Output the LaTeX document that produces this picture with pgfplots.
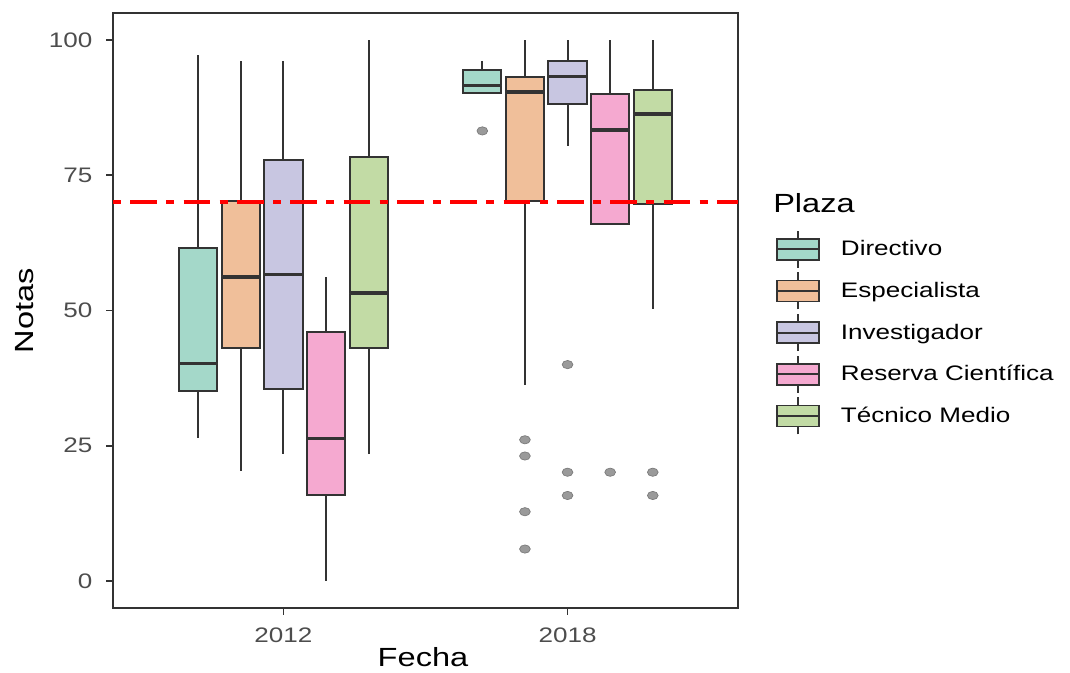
\documentclass[border=0pt]{standalone}
\usepackage{fontspec}
\setmainfont{Liberation Sans}[FakeStretch=1.24]
\usepackage{pgfplots}
\pgfplotsset{compat=1.18}
\usepgfplotslibrary{statistics}
\definecolor{c1}{HTML}{A4D8C9}
\definecolor{c2}{HTML}{F0BF9A}
\definecolor{c3}{HTML}{C8C6E1}
\definecolor{c4}{HTML}{F5A9D0}
\definecolor{c5}{HTML}{C2DBA5}
\definecolor{g20}{HTML}{333333}
\definecolor{g30}{HTML}{4D4D4D}
\definecolor{gout}{HTML}{9A9A9A}
\definecolor{goutd}{HTML}{7A7A7A}
\newcommand{\smallfs}{\fontsize{15.75pt}{18pt}\selectfont}
\newcommand{\bigfs}{\fontsize{19.7pt}{23pt}\selectfont}
\newcommand{\lt}[1]{\raisebox{0pt}[11.3pt][0pt]{#1}}
\pgfplotsset{bp/.style={forget plot, boxplot/draw direction=y, draw=g20, line width=1.5pt,
  boxplot/box extend=0.135, boxplot/whisker extend=0,
  boxplot/every median/.style={line width=2.6pt},
  mark=*, mark size=3.1pt, mark options={fill=gout, draw=goutd, line width=0.5pt, xscale=1.3, solid}}}
\begin{document}
\begin{tikzpicture}
\begin{axis}[
  at={(0,0)}, anchor=south west,
  scale only axis, width=468.75pt, height=446.25pt,
  xmin=0.4, xmax=2.6, ymin=-5, ymax=105,
  xtick={1,2}, xticklabels={2012,2018},
  ytick={0,25,50,75,100},
  /pgf/number format/assume math mode=true,
  tick align=outside, xtick pos=bottom, ytick pos=left,
  major tick length=5pt,
  tick style={g20, line width=1.2pt},
  axis line style={g20, line width=1.3pt},
  tick label style={font=\smallfs, text=g30, inner sep=0pt},
  xticklabel style={anchor=base, yshift=-20.6pt},
  yticklabel style={anchor=east, xshift=-10.3pt},
  xlabel={Fecha}, ylabel={Notas},
  label style={font=\bigfs, text=black},
  xlabel style={at={(axis description cs:0.496,-0.0985)}, anchor=base},
  ylabel style={at={(axis description cs:-0.1408,0.5)}, anchor=center},
  clip=false,
  legend style={at={(axis description cs:1.06,0.6225)}, anchor=north west, draw=none, fill=none,
    inner sep=0pt, row sep=14.1pt, column sep=16pt, font=\smallfs, cells={anchor=west}, nodes={inner sep=0pt}},
  legend cell align=left,
  legend image code/.code={
    \draw[#1, line width=1.4pt] (0pt,-7.875pt) rectangle (31.5pt,7.875pt);
    \draw[g20, line width=1.4pt] (0pt,0pt) -- (31.5pt,0pt);
    \draw[overlay, g20, line width=1.4pt] (15.75pt,7.875pt) -- (15.75pt,13.875pt) (15.75pt,-7.875pt) -- (15.75pt,-13.875pt);
  },
]
\addlegendimage{fill=c1, draw=g20}\addlegendentry{\lt{Directivo}}
\addlegendimage{fill=c2, draw=g20}\addlegendentry{\lt{Especialista}}
\addlegendimage{fill=c3, draw=g20}\addlegendentry{\lt{Investigador}}
\addlegendimage{fill=c4, draw=g20}\addlegendentry{\lt{Reserva Científica}}
\addlegendimage{fill=c5, draw=g20}\addlegendentry{\lt{Técnico Medio}}
% 2012
\addplot[bp, fill=c1, boxplot prepared={draw position=0.7, lower whisker=26.4, lower quartile=35.1, median=40.2, upper quartile=61.6, upper whisker=97.2}] coordinates {};
\addplot[bp, fill=c2, boxplot prepared={draw position=0.85, lower whisker=20.3, lower quartile=43.0, median=56.2, upper quartile=70.2, upper whisker=96.2}] coordinates {};
\addplot[bp, fill=c3, boxplot prepared={draw position=1.0, lower whisker=23.4, lower quartile=35.5, median=56.7, upper quartile=77.9, upper whisker=96.2}] coordinates {};
\addplot[bp, fill=c4, boxplot prepared={draw position=1.15, lower whisker=0, lower quartile=15.8, median=26.3, upper quartile=46.0, upper whisker=56.1}] coordinates {};
\addplot[bp, fill=c5, boxplot prepared={draw position=1.3, lower whisker=23.4, lower quartile=43.0, median=53.2, upper quartile=78.3, upper whisker=100}] coordinates {};
% 2018
\addplot[bp, fill=c1, boxplot prepared={draw position=1.7, lower whisker=90.2, lower quartile=90.2, median=91.6, upper quartile=94.5, upper whisker=96.2}] table[row sep=\\, y index=0] {data\\ 83.2\\};
\addplot[bp, fill=c2, boxplot prepared={draw position=1.85, lower whisker=36.2, lower quartile=70.3, median=90.4, upper quartile=93.1, upper whisker=100}] table[row sep=\\, y index=0] {data\\ 26.1\\ 23.1\\ 12.8\\ 5.9\\};
\addplot[bp, fill=c3, boxplot prepared={draw position=2.0, lower whisker=80.5, lower quartile=88.2, median=93.3, upper quartile=96.1, upper whisker=100}] table[row sep=\\, y index=0] {data\\ 40.0\\ 20.1\\ 15.8\\};
\addplot[bp, fill=c4, boxplot prepared={draw position=2.15, lower whisker=66.0, lower quartile=66.0, median=83.4, upper quartile=90.1, upper whisker=100}] table[row sep=\\, y index=0] {data\\ 20.1\\};
\addplot[bp, fill=c5, boxplot prepared={draw position=2.3, lower whisker=50.3, lower quartile=69.7, median=86.3, upper quartile=90.8, upper whisker=100}] table[row sep=\\, y index=0] {data\\ 20.1\\ 15.8\\};
% threshold
\addplot[forget plot, red, line width=2.75pt, dash pattern=on 6pt off 7pt on 20pt off 7pt] coordinates {(0.4,70) (2.6,70)};
\node[anchor=base west, font=\bigfs, inner sep=0pt] at (axis description cs:1.056,0.6644) {Plaza};
\end{axis}
\pgfresetboundingbox
\useasboundingbox (-84.75pt,-48.75pt) rectangle (717.75pt,456pt);
\end{tikzpicture}
\end{document}
